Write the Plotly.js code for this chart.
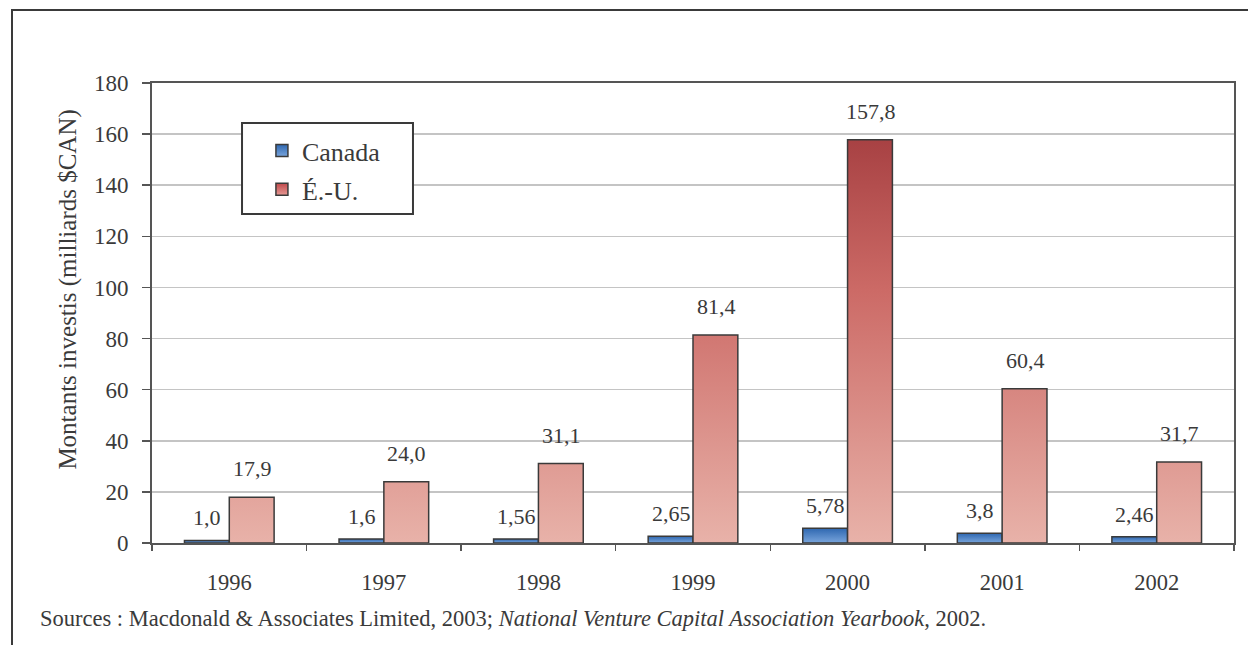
<!DOCTYPE html>
<html>
<head>
<meta charset="utf-8">
<script src="https://cdn.plot.ly/plotly-3.0.1.min.js"></script>
<style>
html,body{margin:0;padding:0;background:#fff;}
#chart{position:absolute;left:0;top:0;width:1248px;height:645px;}
#frame{position:absolute;left:11px;top:9px;width:1237px;height:636px;border-left:2px solid #3a3a3a;border-top:2px solid #3a3a3a;box-sizing:border-box;pointer-events:none;}
</style>
</head>
<body>
<div id="chart"></div>
<div id="frame"></div>
<script>
const years = ['1996','1997','1998','1999','2000','2001','2002'];
const canada = [1.0, 1.6, 1.56, 2.65, 5.78, 3.8, 2.46];
const usa = [17.9, 24.0, 31.1, 81.4, 157.8, 60.4, 31.7];
const canadaLabels = ['1,0','1,6','1,56','2,65','5,78','3,8','2,46'];
const usaLabels = ['17,9','24,0','31,1','81,4','157,8','60,4','31,7'];
const yTicks = [0,20,40,60,80,100,120,140,160,180];

const serif = "'Liberation Serif', 'Times New Roman', serif";
const textColor = '#3a3a3a';

const traces = [
  {type:'bar', name:'Canada', x:years, y:canada, legendgroup:'a',
   marker:{color:'#4f86c9', line:{color:'#3a3a3a', width:1.5}}, hoverinfo:'skip'},
  {type:'bar', name:'É.-U.', x:years, y:usa, legendgroup:'b',
   marker:{color:'#d07f7a', line:{color:'#3a3a3a', width:1.5}}, hoverinfo:'skip'}
];

const annotations = [];
years.forEach((yr,i)=>{
  annotations.push({x:i, y:canada[i], xref:'x', yref:'y', text:canadaLabels[i], showarrow:false,
    xshift:-22, yanchor:'bottom', yshift:8, font:{family:serif,size:22,color:textColor}});
  annotations.push({x:i, y:usa[i], xref:'x', yref:'y', text:usaLabels[i], showarrow:false,
    xshift:23, yanchor:'bottom', yshift:14, font:{family:serif,size:22,color:textColor}});
});
annotations.push({xref:'paper', yref:'paper', x:-0.078, y:0.55, xanchor:'center', yanchor:'middle', textangle:-90, showarrow:false,
  text:'Montants investis (milliards $CAN)', font:{family:serif,size:25,color:textColor}});
annotations.push({xref:'paper', yref:'paper', x:-0.1054, y:-0.165, xanchor:'left', yanchor:'middle', showarrow:false,
  text:'Sources : Macdonald &amp; Associates Limited, 2003; <i>National Venture Capital Association Yearbook</i>, 2002.',
  font:{family:serif,size:22.5,color:textColor}});

const layout = {
  width:1248, height:645,
  margin:{l:152, r:14, t:83, b:102},
  paper_bgcolor:'#ffffff', plot_bgcolor:'#ffffff',
  barmode:'group', bargap:0.42, bargroupgap:0,
  font:{family:serif, color:textColor, size:22},
  showlegend:true,
  legend:{x:0.1016, y:0.904, xanchor:'left', yanchor:'top', bgcolor:'rgba(0,0,0,0)',
    borderwidth:0, font:{family:serif,size:26,color:textColor},
    traceorder:'grouped', tracegroupgap:2},
  shapes:[{type:'rect', xref:'paper', yref:'paper', x0:0.0832, x1:0.2412, y0:0.7152, y1:0.913,
    line:{color:'#3a3a3a', width:2}, fillcolor:'#ffffff', layer:'above'}],
  xaxis:{type:'category', range:[-0.5,6.5], showgrid:false, showline:true, linecolor:'#555', linewidth:2, mirror:true,
    ticks:'outside', tickson:'boundaries', ticklen:6, tickcolor:'#555', tickwidth:1.5,
    ticklabelstandoff:18, tickfont:{family:serif,size:22.5,color:textColor}, zeroline:false},
  yaxis:{range:[0,180], tickvals:yTicks, showgrid:true, gridcolor:'#c4c4c4', gridwidth:1.5,
    showline:true, linecolor:'#555', linewidth:2, mirror:true, ticks:'outside', ticklen:8,
    tickcolor:'#555', tickwidth:1.5, ticklabelstandoff:9, zeroline:false,
    tickfont:{family:serif,size:23,color:textColor}},
  annotations:annotations
};

const gd = document.getElementById('chart');
Plotly.newPlot(gd, traces, layout, {displayModeBar:false, staticPlot:true}).then(()=>{
  const svg = gd.querySelector('.main-svg');
  const ns = 'http://www.w3.org/2000/svg';
  let defs = svg.querySelector('defs');
  if(!defs){defs = document.createElementNS(ns,'defs'); svg.insertBefore(defs, svg.firstChild);}
  const h = gd._fullLayout._size.h;
  function grad(id, stops, units, y2){
    const g = document.createElementNS(ns,'linearGradient');
    g.setAttribute('id', id);
    g.setAttribute('gradientUnits', units);
    g.setAttribute('x1','0'); g.setAttribute('x2','0');
    g.setAttribute('y1','0'); g.setAttribute('y2', y2);
    stops.forEach(([o,c])=>{
      const s = document.createElementNS(ns,'stop');
      s.setAttribute('offset',o); s.setAttribute('stop-color',c);
      g.appendChild(s);
    });
    defs.appendChild(g);
  }
  grad('euGrad', [[0,'#9a3236'],[0.45,'#cc6a66'],[1,'#e8b2a9']], 'userSpaceOnUse', String(h));
  grad('caGrad', [[0,'#2e67b0'],[1,'#79a5dc']], 'objectBoundingBox', '1');
  grad('euBox', [[0,'#c04a4c'],[1,'#e79a95']], 'objectBoundingBox', '1');
  const tr = gd.querySelectorAll('.barlayer .trace');
  tr[0].querySelectorAll('path').forEach(p=>p.style.fill='url(#caGrad)');
  tr[1].querySelectorAll('path').forEach(p=>p.style.fill='url(#euGrad)');
  const lp = gd.querySelectorAll('.legend .traces');
  lp.forEach((t,i)=>t.querySelectorAll('.legendpoints path').forEach(p=>p.style.fill = i===0?'url(#caGrad)':'url(#euBox)'));
});
</script>
</body>
</html>
